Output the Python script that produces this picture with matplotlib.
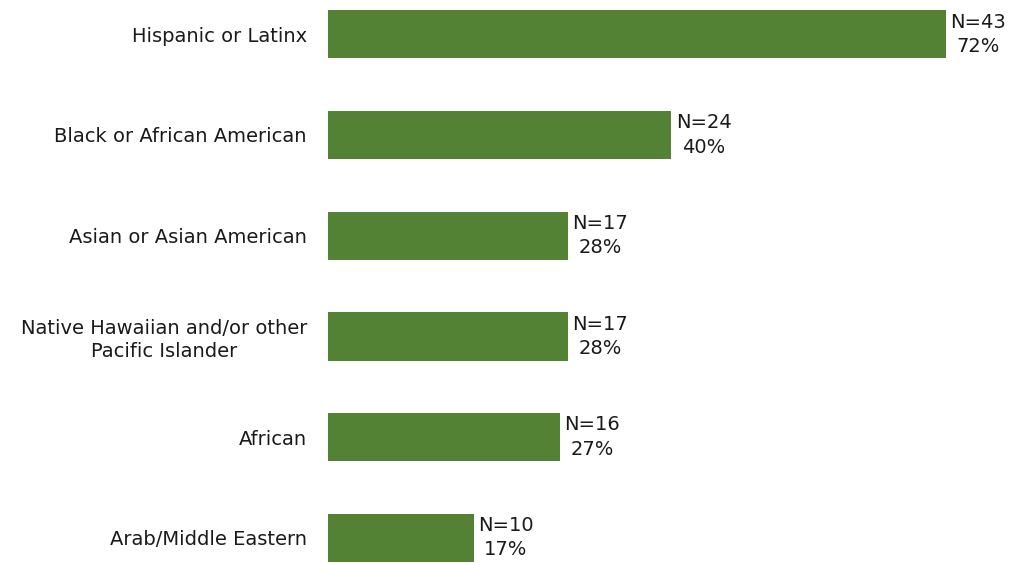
import matplotlib
matplotlib.use('Agg')
import matplotlib.pyplot as plt

groups = ['Hispanic or Latinx', 'Black or African American', 'Asian or Asian American',
          'Native Hawaiian and/or other\nPacific Islander', 'African', 'Arab/Middle Eastern']
counts = [43, 24, 17, 17, 16, 10]
pcts = [72, 40, 28, 28, 27, 17]

plt.rcParams['font.family'] = ['DejaVu Sans']

fig = plt.figure(figsize=(10.18, 5.63), dpi=100)
ax = fig.add_axes([0.322, 0.0, 0.675, 1.0])

ypos = list(range(len(groups)))
ax.barh(ypos, pcts, height=0.48, color='#548235')

for y, n, p in zip(ypos, counts, pcts):
    ax.text(p + 0.5, y, 'N=%d\n%d%%' % (n, p), ha='left', va='center',
            multialignment='center', fontsize=14, color='#1a1a1a', linespacing=1.35)

ax.set_yticks(ypos)
ax.set_yticklabels(groups, fontsize=14, color='#1a1a1a', multialignment='center',
                   linespacing=1.25)
ax.tick_params(axis='y', length=0, pad=15)
ax.set_xticks([])
ax.set_xlim(0, 80)
ax.set_ylim(5.25, -0.34)
for s in ax.spines.values():
    s.set_visible(False)

fig.savefig('out.png', dpi=100)
